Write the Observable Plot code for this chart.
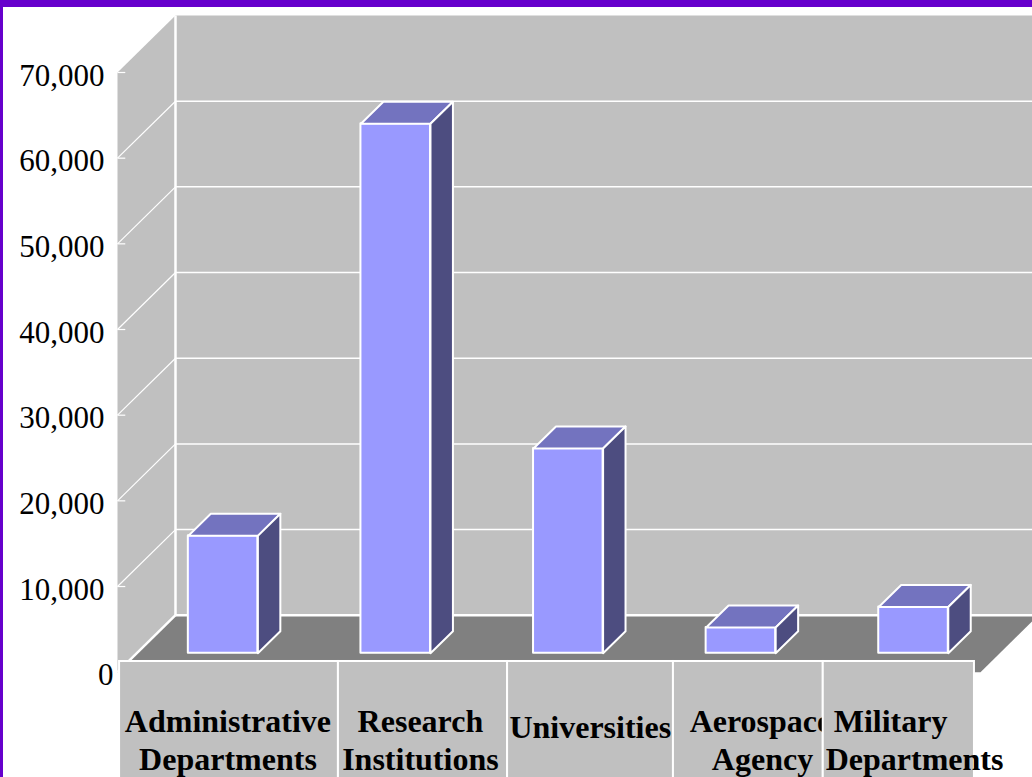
<!DOCTYPE html>
<html>
<head>
<meta charset="utf-8">
<script src="https://cdn.jsdelivr.net/npm/d3@7"></script>
<script src="https://cdn.jsdelivr.net/npm/@observablehq/plot@0.6"></script>
<style>
html, body { margin: 0; padding: 0; background: #fff; overflow: hidden; }
#wrap { position: relative; width: 1032px; height: 777px; }
#wrap svg { position: absolute; left: 0; top: 0; }
.bt { position: absolute; left: 0; top: 0; width: 1032px; height: 7px; background: #6600cc; }
.bl { position: absolute; left: 0; top: 0; width: 3px; height: 777px; background: #6600cc; }
</style>
</head>
<body>
<div id="wrap"></div>
<script>
// ---- data ----
const categories = ["Administrative\nDepartments", "Research\nInstitutions", "Universities", "Aerospace\nAgency", "Military\nDepartments"];
const values = [13700, 61800, 23900, 3000, 5400];
const yTicks = [0, 10000, 20000, 30000, 40000, 50000, 60000, 70000];

// ---- layout (category units / value units) ----
const Y_MAX = 70000;
const DEPTH_X = 0.336;   // full depth offset, category units
const DEPTH_Y = 6650;    // full depth offset, value units
const BH = 0.2015;       // half bar width
const B0 = 0.333, B1 = 0.72; // bar depth span
const LABEL_TOP = 1250, LABEL_BOTTOM = -16000;
const boxEdges = [-0.488, 0.780, 1.760, 2.721, 3.589, 4.465];
const lineX = [[0.140, 0.140], [1.255, 1.255], [2.239], [3.225, 3.237], [3.979, 4.118]];
const lineDy = [60, 60, 66, 60, 60];
const LINE_STEP = 38;

const fontSerif = "'Liberation Serif', 'Times New Roman', serif";
const fmt = d3.format(",");

function poly(id, pts) {
  return [...pts, pts[0]].map(([c, v, d]) => ({id, x: c + d * DEPTH_X, y: v + d * DEPTH_Y}));
}
const n = categories.length;
const sideWall = poly("side", [[-0.5, 0, 0], [-0.5, Y_MAX, 0], [-0.5, Y_MAX, 1], [-0.5, 0, 1]]);
const backWall = poly("back", [[-0.5, 0, 1], [-0.5, Y_MAX, 1], [n - 0.5, Y_MAX, 1], [n - 0.5, 0, 1]]);
const floor = poly("floor", [[-0.5, 0, 0], [n - 0.5, 0, 0], [n - 0.5, 0, 1], [-0.5, 0, 1]]);
const barTops = values.flatMap((v, i) => poly("t" + i, [[i - BH, v, B0], [i + BH, v, B0], [i + BH, v, B1], [i - BH, v, B1]]));
const barSides = values.flatMap((v, i) => poly("s" + i, [[i + BH, 0, B0], [i + BH, v, B0], [i + BH, v, B1], [i + BH, 0, B1]]));

const gridTicks = yTicks.filter(t => t > 0 && t < Y_MAX);
const frontTicks = yTicks.filter(t => t > 0);

const labelLines = categories.flatMap((c, i) => c.split("\n").map((text, j) => ({cat: i, j, text, x: lineX[i][j], dy: lineDy[i] + j * LINE_STEP})));
const boxes = d3.range(n);

const textCommon = {fontFamily: fontSerif, fontSize: 32, fontWeight: "bold", fill: "black", lineAnchor: "bottom", textAnchor: "middle"};
function labelMarks(filterFn) {
  const lines = labelLines.filter(d => filterFn(d.cat));
  const groups = d3.groups(lines, d => d.dy);
  return groups.map(([dy, arr]) => Plot.text(arr, {x: "x", y: 0, text: "text", dy, ...textCommon}));
}

const white = "#ffffff";
const plot = Plot.plot({
  width: 1032,
  height: 777,
  style: {background: "transparent", overflow: "visible"},
  x: {type: "linear", domain: [-0.5, n - 0.5], range: [117, 980], axis: null},
  y: {type: "linear", domain: [0, Y_MAX], range: [671.7, 72], axis: null},
  marks: [
    // walls and floor
    Plot.line(sideWall, {x: "x", y: "y", z: "id", fill: "#c0c0c0", stroke: "none"}),
    Plot.line(backWall, {x: "x", y: "y", z: "id", fill: "#c0c0c0", stroke: "none"}),
    Plot.line(floor, {x: "x", y: "y", z: "id", fill: "#808080", stroke: "none"}),
    // gridlines on back wall
    Plot.link(gridTicks, {x1: -0.5 + DEPTH_X, x2: n - 0.5 + DEPTH_X, y1: d => d + DEPTH_Y, y2: d => d + DEPTH_Y, stroke: white, strokeWidth: 1.5}),
    // gridlines on side wall
    Plot.link(gridTicks, {x1: -0.5, x2: -0.5 + DEPTH_X, y1: d => d, y2: d => d + DEPTH_Y, stroke: white, strokeWidth: 1.2}),
    // front tick marks
    Plot.link(frontTicks, {x1: -0.5, x2: -0.5 + 0.045, y1: d => d, y2: d => d, stroke: white, strokeWidth: 1.2}),
    // wall corner and floor edges
    Plot.link([0], {x1: -0.5 + DEPTH_X, x2: -0.5 + DEPTH_X, y1: DEPTH_Y, y2: Y_MAX + DEPTH_Y, stroke: white, strokeWidth: 2.5}),
    Plot.link([0], {x1: -0.5 + DEPTH_X, x2: n - 0.5 + DEPTH_X, y1: DEPTH_Y, y2: DEPTH_Y, stroke: white, strokeWidth: 2.5}),
    Plot.link([0], {x1: -0.5, x2: -0.5 + DEPTH_X, y1: 0, y2: DEPTH_Y, stroke: white, strokeWidth: 2.5}),
    // bars
    Plot.rect(values, {x1: (d, i) => i - BH + B0 * DEPTH_X, x2: (d, i) => i + BH + B0 * DEPTH_X, y1: B0 * DEPTH_Y, y2: d => d + B0 * DEPTH_Y, fill: "#9999ff", stroke: white, strokeWidth: 2, strokeLinejoin: "round"}),
    Plot.line(barTops, {x: "x", y: "y", z: "id", fill: "#7373bf", stroke: white, strokeWidth: 2, strokeLinejoin: "round"}),
    Plot.line(barSides, {x: "x", y: "y", z: "id", fill: "#4d4d80", stroke: white, strokeWidth: 2, strokeLinejoin: "round"}),
    // y tick labels
    Plot.text(yTicks.filter(t => t > 0), {x: -0.5, y: d => d, text: d => fmt(d), textAnchor: "end", lineAnchor: "bottom", dx: -13, dy: 13, fontFamily: fontSerif, fontSize: 31, fill: "black"}),
    Plot.text([0], {x: -0.5, y: d => d, text: d => fmt(d), textAnchor: "end", lineAnchor: "bottom", dx: -4, dy: 13, fontFamily: fontSerif, fontSize: 31, fill: "black"}),
    // category label boxes and texts
    Plot.rect(boxes.filter(i => i < n - 1), {x1: i => boxEdges[i], x2: i => boxEdges[i + 1], y1: LABEL_TOP, y2: LABEL_BOTTOM, fill: "#c0c0c0", stroke: white, strokeWidth: 2}),
    ...labelMarks(i => i < n - 1),
    Plot.rect(boxes.filter(i => i === n - 1), {x1: i => boxEdges[i], x2: i => boxEdges[i + 1], y1: LABEL_TOP, y2: LABEL_BOTTOM, fill: "#c0c0c0", stroke: white, strokeWidth: 2}),
    ...labelMarks(i => i === n - 1)
  ]
});
const wrap = document.getElementById("wrap");
wrap.appendChild(plot);
const bt = document.createElement("div"); bt.className = "bt"; wrap.appendChild(bt);
const bl = document.createElement("div"); bl.className = "bl"; wrap.appendChild(bl);
</script>
</body>
</html>
